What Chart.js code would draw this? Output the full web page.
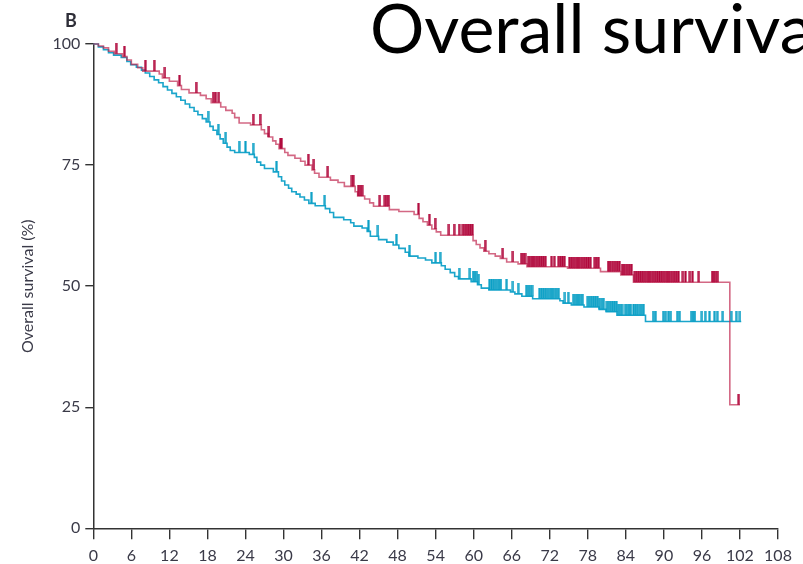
<!DOCTYPE html>
<html>
<head>
<meta charset="utf-8">
<script src="https://cdn.jsdelivr.net/npm/chart.js@4/dist/chart.umd.min.js"></script>
<style>
  html, body { margin: 0; padding: 0; background: #fff; }
  #wrap { width: 803px; height: 564px; position: relative; overflow: hidden; }
</style>
</head>
<body>
<div id="wrap"><canvas id="km" width="803" height="564"></canvas></div>
<script>
// Axis tick values
const monthTicks = [0, 6, 12, 18, 24, 30, 36, 42, 48, 54, 60, 66, 72, 78, 84, 90, 96, 102, 108];
const survivalTicks = [0, 25, 50, 75, 100];

// Arm A (crimson) Kaplan-Meier steps: month of each drop and survival (%) after it
const armATimes = [0, 0.8, 1.6, 2.4, 3.3, 4.6, 5.3, 6.0, 7.0, 7.8, 10.4, 10.9, 12.0, 13.3, 13.9, 15.1, 16.9, 17.8, 18.6, 20.1,
  20.9, 21.9, 22.3, 23.0, 24.8, 26.5, 27.0, 27.6, 28.3, 28.8, 29.3, 30.2, 30.7, 31.8, 32.7, 33.4, 34.5, 34.9, 35.6, 37.4,
  38.6, 39.6, 41.3, 41.7, 42.8, 43.6, 44.2, 46.7, 48.2, 50.6, 51.4, 52.0, 52.7, 53.4, 54.1, 54.8, 59.9, 60.4, 61.0, 61.6,
  62.4, 63.4, 64.2, 65.2, 67.0, 68.4, 74.8, 80.0, 83.2, 85.2, 100.4, 102.0];
const armASurvival = [100, 99.6, 99.2, 98.5, 98.0, 97.4, 96.7, 95.8, 95.1, 94.4, 93.8, 93.0, 92.3, 91.4, 90.6, 89.9, 89.4, 88.7, 87.9, 87.0,
  86.3, 85.7, 84.8, 83.7, 83.3, 82.3, 81.5, 80.8, 80.0, 79.3, 78.4, 77.6, 77.0, 76.4, 75.8, 75.0, 74.0, 73.3, 72.5, 71.9,
  71.4, 70.6, 69.5, 68.6, 68.0, 67.2, 66.5, 65.8, 65.4, 64.8, 64.0, 63.3, 62.6, 61.8, 61.2, 60.5, 59.4, 58.6, 57.9, 57.2,
  56.7, 56.2, 55.7, 55.0, 54.6, 54.0, 53.7, 53.0, 52.3, 50.8, 25.5, 25.5];
// Arm A censoring times (months)
const armACensored = [3.6, 4.9, 8.2, 9.6, 11.3, 13.6, 16.2, 18.9, 19.3, 19.8, 25.2, 26.3, 27.7, 29.5, 29.7, 33.9, 34.8, 37.0,
  40.8, 41.0, 41.8, 42.1, 42.4, 45.2, 46.0, 46.3, 46.6, 51.3, 53.0, 53.9, 56.1, 56.9, 57.7, 58.3, 58.6, 58.9, 59.2, 59.5, 59.8,
  61.8, 64.6, 66.2, 67.5, 67.8, 68.1, 68.6, 68.9, 69.2, 69.5, 69.8, 70.1, 70.4, 70.7, 71.0, 71.3, 72.3, 72.7, 73.4, 73.7, 74.0,
  74.3, 75.1, 75.4, 75.7, 76.0, 76.3, 76.6, 76.9, 77.2, 77.5, 77.8, 78.1, 78.4, 79.1, 79.4, 79.7, 81.2, 81.5, 81.8, 82.1, 82.4,
  82.7, 83.0, 83.4, 83.7, 84.0, 84.3, 84.6, 84.9, 85.4, 85.7, 86.0, 86.3, 86.6, 86.9, 87.2, 87.5, 87.8, 88.1, 88.4, 88.7, 89.0,
  89.3, 89.6, 89.9, 90.2, 90.5, 90.8, 91.1, 91.4, 91.7, 92.0, 92.3, 93.0, 93.4, 94.1, 94.5, 95.5, 97.6, 97.9, 98.2, 98.5, 101.8];

// Arm B (teal) Kaplan-Meier steps
const armBTimes = [0, 0.8, 1.6, 2.4, 3.2, 4.4, 5.3, 5.9, 6.8, 7.6, 8.2, 8.9, 9.6, 10.3, 11.0, 11.7, 12.4, 13.1, 13.8, 14.5,
  15.2, 15.9, 16.5, 17.2, 17.8, 18.4, 18.9, 19.5, 20.0, 20.5, 21.1, 21.6, 22.3, 24.6, 25.4, 25.8, 26.4, 27.0, 28.4, 29.2,
  29.7, 30.2, 30.8, 31.3, 32.0, 32.6, 33.3, 34.0, 35.0, 36.6, 37.3, 37.9, 39.5, 40.6, 41.1, 42.4, 43.2, 43.7, 45.0, 46.3,
  47.3, 48.2, 49.2, 49.8, 51.2, 52.4, 53.4, 54.9, 55.5, 56.3, 57.0, 57.6, 59.6, 60.6, 61.2, 62.4, 65.8, 66.5, 67.6, 69.3,
  73.6, 74.1, 75.4, 77.4, 79.8, 80.9, 82.6, 87.1, 102.2];
const armBSurvival = [100, 99.4, 98.8, 98.2, 97.7, 97.2, 96.4, 95.7, 95.2, 94.6, 94.0, 93.3, 92.6, 92.0, 91.2, 90.5, 89.8, 89.1, 88.4, 87.6,
  86.9, 86.1, 85.4, 84.6, 83.9, 83.0, 82.2, 81.3, 80.4, 79.5, 78.7, 78.0, 77.6, 77.2, 76.6, 75.6, 75.0, 74.3, 73.6, 72.6,
  71.7, 70.9, 70.2, 69.5, 69.0, 68.4, 67.8, 67.1, 66.6, 66.0, 65.2, 64.2, 63.7, 63.1, 62.4, 62.0, 61.3, 60.3, 59.6, 59.1,
  58.5, 57.8, 57.0, 56.2, 55.8, 55.4, 54.8, 54.2, 53.5, 52.8, 52.0, 51.5, 50.9, 50.3, 49.6, 49.2, 48.8, 48.4, 47.9, 47.4,
  47.0, 46.5, 46.1, 45.7, 45.2, 44.7, 44.0, 42.7, 42.7];
// Arm B censoring times (months)
const armBCensored = [18.1, 19.7, 20.9, 23.0, 24.0, 25.2, 28.9, 34.4, 36.5, 43.4, 44.9, 47.8, 49.9, 54.0, 54.7, 57.7, 59.4,
  59.9, 60.2, 60.5, 60.8, 62.5, 62.8, 63.1, 63.4, 63.7, 64.0, 64.3, 65.2, 66.2, 67.0, 68.3, 68.6, 68.9, 69.2, 70.4, 70.7, 71.0,
  71.3, 71.6, 71.9, 72.2, 72.5, 72.8, 73.1, 73.4, 74.4, 74.9, 75.7, 76.0, 76.3, 76.6, 76.9, 77.2, 78.0, 78.3, 78.6, 78.9, 79.2,
  79.5, 79.8, 80.2, 80.5, 81.0, 81.3, 81.6, 81.9, 82.2, 82.5, 82.8, 83.1, 83.4, 83.9, 84.2, 84.5, 84.8, 85.2, 85.5, 85.8, 86.2,
  86.5, 86.8, 88.3, 88.7, 89.9, 90.3, 90.7, 91.1, 92.1, 92.5, 94.3, 94.6, 94.9, 96.0, 96.5, 97.2, 98.0, 98.4, 99.3, 100.6,
  101.4, 102.0];

const CRIMSON_LINE = 'rgba(192, 40, 80, 0.7)';
const CRIMSON_MARK = '#b0063a';
const TEAL_LINE = '#1aa5cb';
const TEAL_MARK = '#0a9fc5';
const INK = '#3a3a48';

function stepPoints(times, surv) {
  return times.map((t, i) => ({ x: t, y: surv[i] }));
}

// Survival level of a step curve at month t
function survivalAt(times, surv, t) {
  let s = surv[0];
  for (let i = 0; i < times.length; i++) {
    if (times[i] <= t) s = surv[i]; else break;
  }
  return s;
}

function censorPoints(censored, times, surv) {
  return censored.map(t => ({ x: t, y: survivalAt(times, surv, t) }));
}

// Censor mark: a short vertical stroke rising from the curve
function censorMark(color, h) {
  const c = document.createElement('canvas');
  c.width = 3;
  c.height = h * 2;
  const g = c.getContext('2d');
  g.fillStyle = color;
  g.fillRect(0.4, 0, 2.2, h);
  return c;
}

const panelText = {
  id: 'panelText',
  afterDraw(chart) {
    const ctx = chart.ctx;
    ctx.save();
    ctx.fillStyle = '#2e2e38';
    ctx.font = 'bold 18px Lato';
    ctx.textBaseline = 'alphabetic';
    ctx.textAlign = 'left';
    ctx.fillText('B', 65, 27);
    ctx.fillStyle = '#000';
    ctx.font = '68px Lato';
    ctx.fillText('Overall survival', 370, 53);
    ctx.restore();
  }
};

const lineDefaults = {
  showLine: true,
  stepped: 'before',
  pointRadius: 0,
  pointHoverRadius: 0,
  borderWidth: 1.6,
  fill: false,
  clip: false
};

new Chart(document.getElementById('km'), {
  type: 'scatter',
  data: {
    datasets: [
      {
        label: 'Arm A censored',
        data: censorPoints(armACensored, armATimes, armASurvival),
        pointStyle: censorMark(CRIMSON_MARK, 11),
        pointRadius: 6,
        showLine: false,
        clip: false
      },
      {
        label: 'Arm B censored',
        data: censorPoints(armBCensored, armBTimes, armBSurvival),
        pointStyle: censorMark(TEAL_MARK, 11),
        pointRadius: 6,
        showLine: false,
        clip: false
      },
      Object.assign({ label: 'Arm A', data: stepPoints(armATimes, armASurvival), borderColor: CRIMSON_LINE }, lineDefaults),
      Object.assign({ label: 'Arm B', data: stepPoints(armBTimes, armBSurvival), borderColor: TEAL_LINE }, lineDefaults)
    ]
  },
  options: {
    responsive: false,
    animation: false,
    devicePixelRatio: 1,
    layout: { padding: { top: 44, right: 25, bottom: 0, left: 0 } },
    plugins: { legend: { display: false }, tooltip: { enabled: false } },
    scales: {
      x: {
        type: 'linear',
        min: 0,
        max: 108,
        afterBuildTicks: s => { s.ticks = monthTicks.map(v => ({ value: v })); },
        afterFit: s => { s.height = 35.7; },
        grid: { drawOnChartArea: false, drawTicks: true, tickLength: 11, color: '#333', lineWidth: 1.4 },
        border: { display: true, color: '#333', width: 1.5 },
        ticks: { color: INK, font: { family: 'Lato', size: 16 }, padding: 7, maxRotation: 0, autoSkip: false }
      },
      y: {
        type: 'linear',
        min: 0,
        max: 100,
        afterBuildTicks: s => { s.ticks = survivalTicks.map(v => ({ value: v })); },
        afterFit: s => { s.width = 93.3; },
        grid: { drawOnChartArea: false, drawTicks: true, tickLength: 8, color: '#333', lineWidth: 1.4 },
        border: { display: true, color: '#333', width: 1.5 },
        ticks: { color: INK, font: { family: 'Lato', size: 16 }, padding: 5 },
        title: {
          display: true,
          text: 'Overall survival (%)',
          color: INK,
          font: { family: 'Lato', size: 16 },
          padding: { top: 18, bottom: 0 }
        }
      }
    }
  },
  plugins: [panelText]
});
</script>
</body>
</html>
